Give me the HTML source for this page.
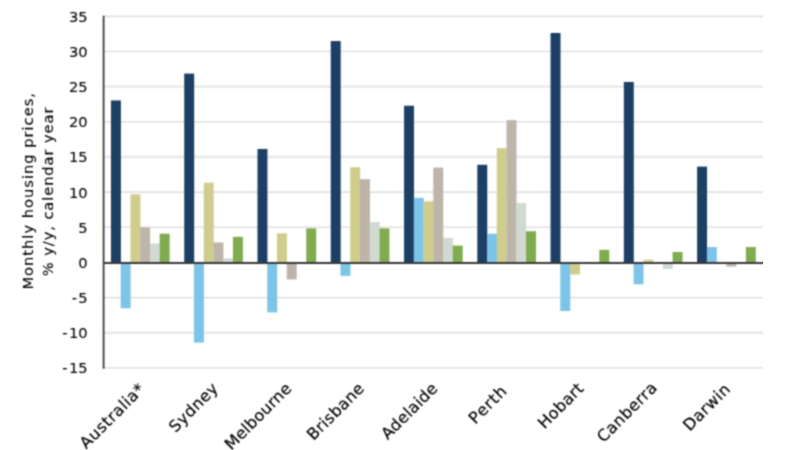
<!DOCTYPE html><html><head><meta charset="utf-8"><title>Monthly housing prices</title>
<style>html,body{margin:0;padding:0;background:#fff}body{width:800px;height:450px;overflow:hidden}svg{display:block}text{font-family:"DejaVu Sans","Liberation Sans",sans-serif;fill:#000;stroke:#000;stroke-width:0.12px;letter-spacing:0px}text.yt{stroke-width:0.12px}text.xl{stroke-width:0.2px}</style></head><body>
<svg width="800" height="450" viewBox="0 0 800 450">
<defs><filter id="b" x="0" y="0" width="100%" height="100%" color-interpolation-filters="sRGB"><feConvolveMatrix order="3" kernelMatrix="0.0484 0.1232 0.0484 0.1232 0.3136 0.1232 0.0484 0.1232 0.0484" divisor="1" edgeMode="duplicate" preserveAlpha="false"/></filter></defs>
<rect width="800" height="450" fill="#fff"/>
<g filter="url(#b)">
<line x1="103.60" x2="762.70" y1="367.85" y2="367.85" stroke="#d9d9d9" stroke-width="1.2"/>
<line x1="103.60" x2="762.70" y1="332.70" y2="332.70" stroke="#e8e8e8" stroke-width="2.4"/>
<line x1="103.60" x2="762.70" y1="297.55" y2="297.55" stroke="#d9d9d9" stroke-width="1.2"/>
<line x1="103.60" x2="762.70" y1="227.25" y2="227.25" stroke="#e1e1e1" stroke-width="1.7"/>
<line x1="103.60" x2="762.70" y1="192.10" y2="192.10" stroke="#e1e1e1" stroke-width="1.7"/>
<line x1="103.60" x2="762.70" y1="156.95" y2="156.95" stroke="#e8e8e8" stroke-width="2.4"/>
<line x1="103.60" x2="762.70" y1="121.80" y2="121.80" stroke="#d9d9d9" stroke-width="1.2"/>
<line x1="103.60" x2="762.70" y1="86.65" y2="86.65" stroke="#e8e8e8" stroke-width="2.4"/>
<line x1="103.60" x2="762.70" y1="51.50" y2="51.50" stroke="#e1e1e1" stroke-width="1.7"/>
<line x1="103.60" x2="762.70" y1="16.35" y2="16.35" stroke="#e1e1e1" stroke-width="1.7"/>
<rect x="110.95" y="100.46" width="9.95" height="162.04" fill="#1c3f63"/>
<rect x="120.70" y="262.50" width="9.95" height="45.70" fill="#7cc4e8"/>
<rect x="130.45" y="194.31" width="9.95" height="68.19" fill="#cfcc8c"/>
<rect x="140.20" y="227.35" width="9.95" height="35.15" fill="#bdb4aa"/>
<rect x="149.95" y="243.52" width="9.95" height="18.98" fill="#d1d9d3"/>
<rect x="159.70" y="233.68" width="9.95" height="28.82" fill="#7fac4e"/>
<rect x="184.22" y="73.60" width="9.95" height="188.90" fill="#1c3f63"/>
<rect x="193.97" y="262.50" width="9.95" height="80.14" fill="#7cc4e8"/>
<rect x="203.72" y="182.71" width="9.95" height="79.79" fill="#cfcc8c"/>
<rect x="213.47" y="242.46" width="9.95" height="20.04" fill="#bdb4aa"/>
<rect x="223.22" y="258.28" width="9.95" height="4.22" fill="#d1d9d3"/>
<rect x="232.97" y="236.84" width="9.95" height="25.66" fill="#7fac4e"/>
<rect x="257.49" y="148.97" width="9.95" height="113.53" fill="#1c3f63"/>
<rect x="267.24" y="262.50" width="9.95" height="49.91" fill="#7cc4e8"/>
<rect x="276.99" y="233.33" width="9.95" height="29.17" fill="#cfcc8c"/>
<rect x="286.74" y="262.50" width="9.95" height="16.87" fill="#bdb4aa"/>
<rect x="306.24" y="228.40" width="9.95" height="34.10" fill="#7fac4e"/>
<rect x="330.76" y="41.05" width="9.95" height="221.45" fill="#1c3f63"/>
<rect x="340.51" y="262.50" width="9.95" height="13.36" fill="#7cc4e8"/>
<rect x="350.26" y="167.24" width="9.95" height="95.26" fill="#cfcc8c"/>
<rect x="360.01" y="179.19" width="9.95" height="83.31" fill="#bdb4aa"/>
<rect x="369.76" y="222.08" width="9.95" height="40.42" fill="#d1d9d3"/>
<rect x="379.51" y="228.40" width="9.95" height="34.10" fill="#7fac4e"/>
<rect x="404.03" y="105.73" width="9.95" height="156.77" fill="#1c3f63"/>
<rect x="413.78" y="197.82" width="9.95" height="64.68" fill="#7cc4e8"/>
<rect x="423.53" y="201.34" width="9.95" height="61.16" fill="#cfcc8c"/>
<rect x="433.28" y="167.59" width="9.95" height="94.91" fill="#bdb4aa"/>
<rect x="443.03" y="237.90" width="9.95" height="24.61" fill="#d1d9d3"/>
<rect x="452.78" y="245.63" width="9.95" height="16.87" fill="#7fac4e"/>
<rect x="477.30" y="164.78" width="9.95" height="97.72" fill="#1c3f63"/>
<rect x="487.05" y="233.68" width="9.95" height="28.82" fill="#7cc4e8"/>
<rect x="496.80" y="148.26" width="9.95" height="114.24" fill="#cfcc8c"/>
<rect x="506.55" y="120.14" width="9.95" height="142.36" fill="#bdb4aa"/>
<rect x="516.30" y="203.10" width="9.95" height="59.40" fill="#d1d9d3"/>
<rect x="526.05" y="231.22" width="9.95" height="31.28" fill="#7fac4e"/>
<rect x="550.57" y="32.97" width="9.95" height="229.53" fill="#1c3f63"/>
<rect x="560.32" y="262.50" width="9.95" height="48.51" fill="#7cc4e8"/>
<rect x="570.07" y="262.50" width="9.95" height="11.95" fill="#cfcc8c"/>
<rect x="599.32" y="249.85" width="9.95" height="12.65" fill="#7fac4e"/>
<rect x="623.84" y="81.97" width="9.95" height="180.53" fill="#1c3f63"/>
<rect x="633.59" y="262.50" width="9.95" height="21.79" fill="#7cc4e8"/>
<rect x="643.34" y="259.69" width="9.95" height="2.81" fill="#cfcc8c"/>
<rect x="662.84" y="262.50" width="9.95" height="6.33" fill="#d1d9d3"/>
<rect x="672.59" y="251.96" width="9.95" height="10.54" fill="#7fac4e"/>
<rect x="697.11" y="166.61" width="9.95" height="95.89" fill="#1c3f63"/>
<rect x="706.86" y="247.03" width="9.95" height="15.47" fill="#7cc4e8"/>
<rect x="726.36" y="262.50" width="9.95" height="4.08" fill="#bdb4aa"/>
<rect x="745.86" y="247.03" width="9.95" height="15.47" fill="#7fac4e"/>
<line x1="103.60" x2="103.60" y1="15.65" y2="368.75" stroke="#333" stroke-width="1.7"/>
<line x1="103.00" x2="762.70" y1="262.90" y2="262.90" stroke="#3a3a3a" stroke-width="2.0"/>
<text class="yl" x="87.7" y="373.35" font-size="14.67" text-anchor="end"><tspan>-</tspan><tspan dx="1.4">15</tspan></text>
<text class="yl" x="87.7" y="338.20" font-size="14.67" text-anchor="end"><tspan>-</tspan><tspan dx="1.4">10</tspan></text>
<text class="yl" x="87.7" y="303.05" font-size="14.67" text-anchor="end"><tspan>-</tspan><tspan dx="1.4">5</tspan></text>
<text class="yl" x="87.7" y="267.90" font-size="14.67" text-anchor="end">0</text>
<text class="yl" x="87.7" y="232.75" font-size="14.67" text-anchor="end">5</text>
<text class="yl" x="87.7" y="197.60" font-size="14.67" text-anchor="end">10</text>
<text class="yl" x="87.7" y="162.45" font-size="14.67" text-anchor="end">15</text>
<text class="yl" x="87.7" y="127.30" font-size="14.67" text-anchor="end">20</text>
<text class="yl" x="87.7" y="92.15" font-size="14.67" text-anchor="end">25</text>
<text class="yl" x="87.7" y="57.00" font-size="14.67" text-anchor="end">30</text>
<text class="yl" x="87.7" y="21.85" font-size="14.67" text-anchor="end">35</text>
<text class="yt" transform="translate(33.3,191.3) rotate(-90)" font-size="14.67" text-anchor="middle" textLength="196.6" lengthAdjust="spacing">Monthly housing prices,</text>
<text class="yt" transform="translate(52.9,191.9) rotate(-90)" font-size="14.67" text-anchor="middle" textLength="168.7" lengthAdjust="spacing">% y/y, calendar year</text>
<text class="xl" transform="translate(145.59,390.30) rotate(-45)" font-size="16" text-anchor="end" textLength="83.75" lengthAdjust="spacing">Australia*</text>
<text class="xl" transform="translate(218.97,389.60) rotate(-45)" font-size="16" text-anchor="end" textLength="61.62" lengthAdjust="spacing">Sydney</text>
<text class="xl" transform="translate(292.35,389.60) rotate(-45)" font-size="16" text-anchor="end" textLength="86.52" lengthAdjust="spacing">Melbourne</text>
<text class="xl" transform="translate(365.03,389.60) rotate(-45)" font-size="16" text-anchor="end" textLength="72.85" lengthAdjust="spacing">Brisbane</text>
<text class="xl" transform="translate(438.41,389.60) rotate(-45)" font-size="16" text-anchor="end" textLength="71.53" lengthAdjust="spacing">Adelaide</text>
<text class="xl" transform="translate(507.59,392.40) rotate(-45)" font-size="16" text-anchor="end" textLength="45.64" lengthAdjust="spacing">Perth</text>
<text class="xl" transform="translate(584.47,389.60) rotate(-45)" font-size="16" text-anchor="end" textLength="56.49" lengthAdjust="spacing">Hobart</text>
<text class="xl" transform="translate(657.85,388.90) rotate(-45)" font-size="16" text-anchor="end" textLength="77.00" lengthAdjust="spacing">Canberra</text>
<text class="xl" transform="translate(731.23,390.30) rotate(-45)" font-size="16" text-anchor="end" textLength="58.55" lengthAdjust="spacing">Darwin</text>
</g></svg></body></html>
